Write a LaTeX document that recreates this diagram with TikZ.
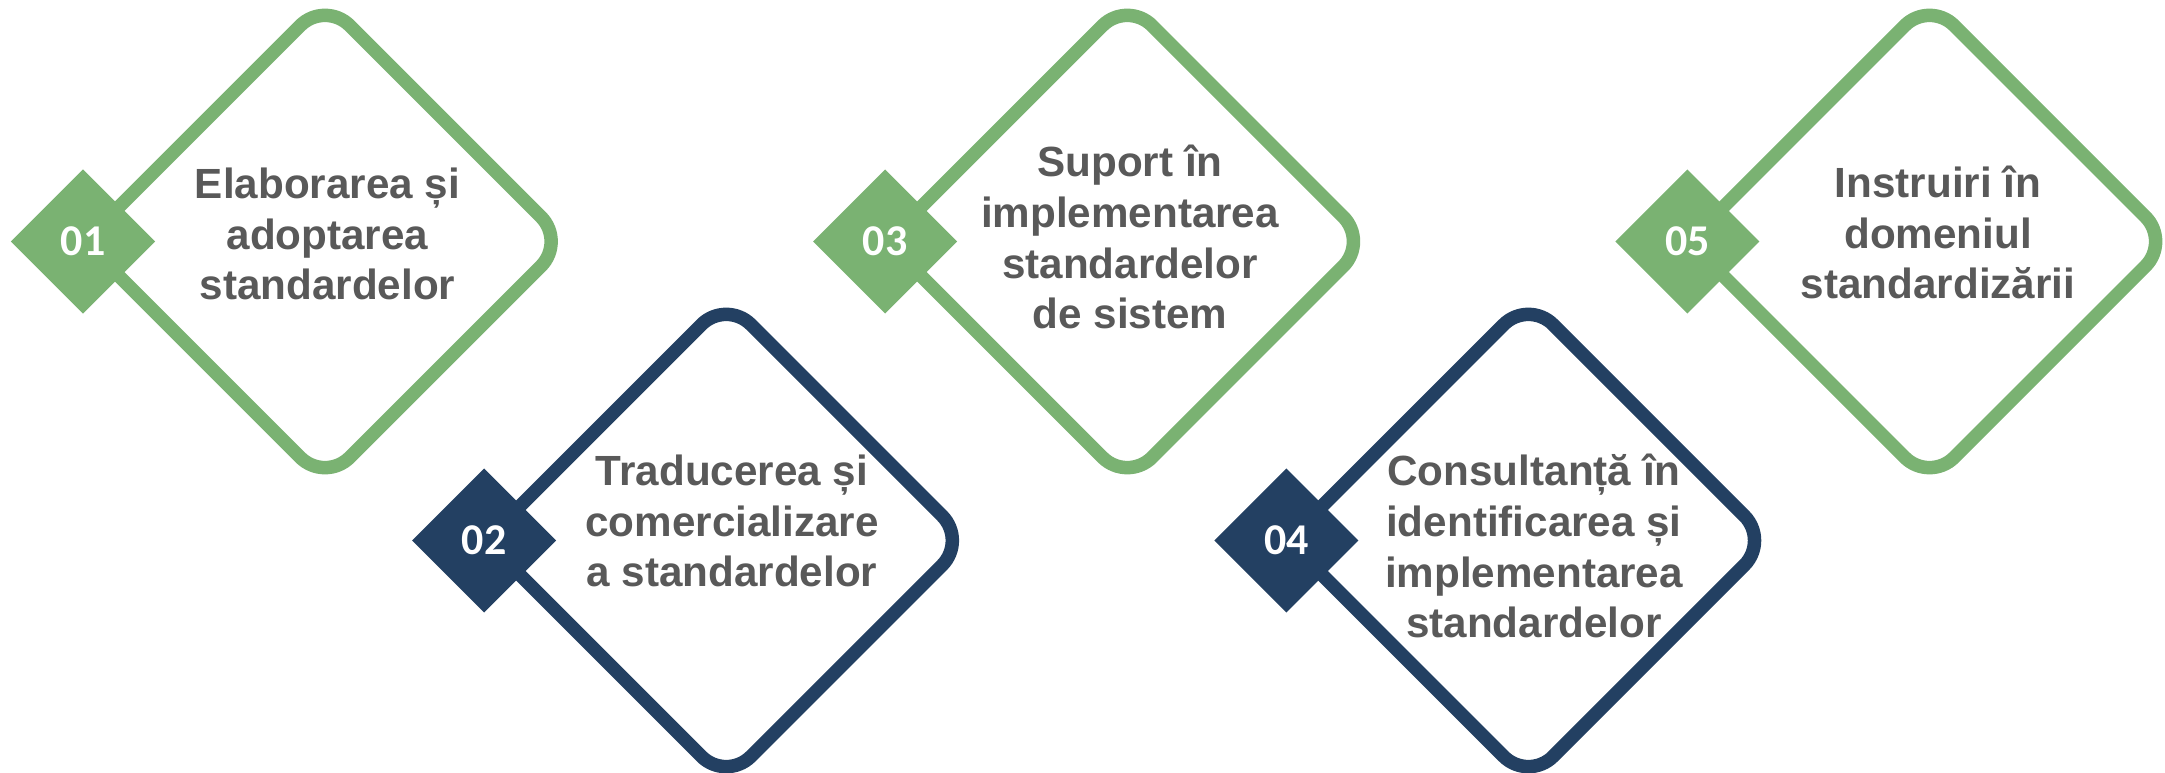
\documentclass[tikz,border=0pt]{standalone}
\usepackage{fontspec}
\setmainfont{Liberation Sans}
\newfontfamily\numfont{Carlito}
\usetikzlibrary{shapes.geometric}
\definecolor{sgreen}{HTML}{7AB272}
\definecolor{snavy}{HTML}{234062}
\definecolor{stext}{HTML}{595959}
\tikzset{
  bigdia/.style={diamond, aspect=1, inner sep=0pt, outer sep=0pt,
    minimum width=4.81cm, minimum height=4.81cm,
    line width=0.135cm, rounded corners=0.35cm, fill=white, draw=#1},
  smalldia/.style={diamond, aspect=1, inner sep=0pt, outer sep=0pt,
    minimum width=1.44cm, minimum height=1.44cm, fill=#1, draw=none,
    text=white, font=\numfont\bfseries\fontsize{12.5}{14}\selectfont},
  lbl/.style={font=\fontsize{12}{14.5}\selectfont\bfseries, text=stext,
    align=center, anchor=base, inner sep=0pt}
}
\begin{document}
\begin{tikzpicture}[x=0.01cm, y=-0.01cm]
\useasboundingbox (0,0) rectangle (2165,773);
% large diamonds
\node[bigdia=sgreen] (d1) at (325,241.5) {};
\node[bigdia=snavy]  (d2) at (726.2,540.5) {};
\node[bigdia=sgreen] (d3) at (1127.3,241.5) {};
\node[bigdia=snavy]  (d4) at (1528.4,540.5) {};
\node[bigdia=sgreen] (d5) at (1929.5,241.5) {};
% small number diamonds
\node[smalldia=sgreen] (n1) at (83,241.5) {01};
\node[smalldia=snavy]  (n2) at (484.1,540.5) {02};
\node[smalldia=sgreen] (n3) at (885.2,241.5) {03};
\node[smalldia=snavy]  (n4) at (1286.3,540.5) {04};
\node[smalldia=sgreen] (n5) at (1687.4,241.5) {05};
% labels (anchor base = baseline of the last line)
\node[lbl] (t1) at (327.5,300) {Elaborarea și\\adoptarea\\standardelor};
\node[lbl] (t2) at (732,587) {Traducerea și\\comercializare\\a standardelor};
\node[lbl] (t3) at (1130,329) {Suport în\\implementarea\\standardelor\\de sistem};
\node[lbl] (t4) at (1534,638) {Consultanță în\\identificarea și\\implementarea\\standardelor};
\node[lbl] (t5) at (1938,299) {Instruiri în\\domeniul\\standardizării};
\end{tikzpicture}
\end{document}
